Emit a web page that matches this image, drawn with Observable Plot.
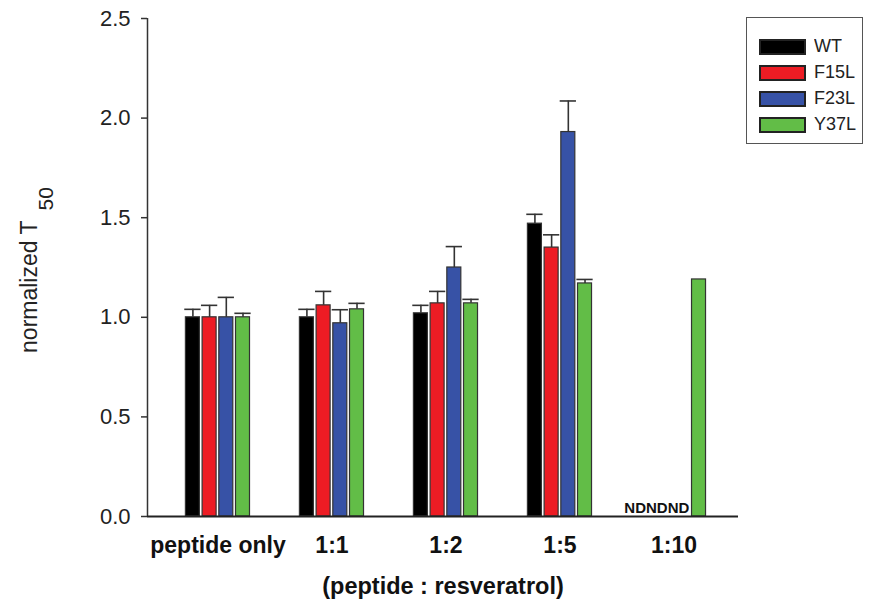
<!DOCTYPE html>
<html><head><meta charset="utf-8">
<script src="https://cdn.jsdelivr.net/npm/d3@7"></script>
<script src="https://cdn.jsdelivr.net/npm/@observablehq/plot@0.6"></script>
<style>
body{margin:0;background:#fff;font-family:"Liberation Sans",Arial,sans-serif;}
#wrap{position:relative;width:870px;height:607px;}
#legend{position:absolute;left:746px;top:17px;width:117px;height:127px;border:1.5px solid #555;box-sizing:border-box;padding:18px 0 0 13px;background:#fff;}
#legend .lg-swatch{margin-bottom:4px;}
#legend svg rect{stroke:#222;stroke-width:2px;}
</style></head><body><div id="wrap"><div id="legend"></div></div>
<script>
// ---- data ----
const groups = ["peptide only", "1:1", "1:2", "1:5", "1:10"];
const variants = ["WT", "F15L", "F23L", "Y37L"];
const colors = ["#000000", "#ed1c24", "#3752a6", "#62bd47"];
const WT      = [1.00, 1.00, 1.02, 1.47, null];
const F15L    = [1.00, 1.06, 1.07, 1.35, null];
const F23L    = [1.00, 0.97, 1.25, 1.93, null];
const Y37L    = [1.00, 1.04, 1.07, 1.17, 1.19];
const WT_err   = [0.04, 0.04, 0.04, 0.047, null];
const F15L_err = [0.06, 0.07, 0.06, 0.064, null];
const F23L_err = [0.10, 0.068, 0.105, 0.156, null];
const Y37L_err = [0.02, 0.03, 0.02, 0.02, null];
const yTicks = [0, 0.5, 1.0, 1.5, 2.0, 2.5];
const yTitle = "normalized T";
const yTitleSub = "50";
const xTitle = "(peptide : resveratrol)";
const ndText = "ND";

// ---- layout ----
const series = {WT, F15L, F23L, Y37L};
const errors = {WT: WT_err, F15L: F15L_err, F23L: F23L_err, Y37L: Y37L_err};
const xDomain = [-0.618, 4.566];
const barStep = 0.1465, barWidth = 0.1228, capExtra = 0.01;

const rows = [];
groups.forEach((g, i) => variants.forEach((v, j) => {
  const val = series[v][i], err = errors[v][i];
  const left = i + (j - 2) * barStep + (barStep - barWidth) / 2;
  rows.push({g, i, v, j, val, err, x1: left, x2: left + barWidth, xc: left + barWidth / 2});
}));
const bars = rows.filter(d => d.val != null);
const errs = bars.filter(d => d.err != null);
const nd = rows.filter(d => d.val == null);
const ndGroups = d3.groups(nd, d => d.i).map(([i, arr]) => ({i, x: d3.max(arr, d => d.x2), text: arr.map(() => ndText).join("")}));

const font = '"Liberation Sans", Arial, sans-serif';
const chart = Plot.plot({
  width: 870, height: 607,
  marginLeft: 147, marginRight: 132, marginTop: 18, marginBottom: 91,
  style: {fontFamily: font, background: "#fff", color: "#222"},
  x: {domain: xDomain, axis: null},
  y: {domain: [0, 2.5], axis: null},
  color: {domain: variants, range: colors},
  marks: [
    Plot.rectY(bars, {x1: "x1", x2: "x2", y: "val", fill: "v", stroke: "#333", strokeWidth: 1.2}),
    Plot.ruleX(errs, {x: "xc", y1: "val", y2: d => d.val + d.err, stroke: "#333", strokeWidth: 1.6}),
    Plot.ruleY(errs, {y: d => d.val + d.err, x1: d => d.x1 - capExtra, x2: d => d.x2 + capExtra, stroke: "#333", strokeWidth: 1.6}),
    Plot.text(ndGroups, {x: "x", y: () => 0, text: "text", textAnchor: "end", lineAnchor: "bottom", dy: -4, fontWeight: "bold", fontSize: 15, fill: "#111"}),
    Plot.ruleX([xDomain[0]], {y1: 0, y2: 2.5, stroke: "#333", strokeWidth: 1.5}),
    Plot.ruleY([0], {stroke: "#222", strokeWidth: 1.8}),
    Plot.axisY({ticks: yTicks, tickFormat: d3.format(".1f"), tickSize: 6, tickPadding: 11, fontSize: 22, label: null, stroke: "#333", strokeWidth: 1.5, fill: "#222"}),
    Plot.axisX({ticks: d3.range(groups.length), tickFormat: i => groups[i], tickSize: 0, tickPadding: 20, fontSize: 23, fontWeight: "bold", label: null, fill: "#111"}),
    Plot.text([xTitle], {text: d => d, frameAnchor: "bottom", dy: 77, lineAnchor: "bottom", fontSize: 23.5, fontWeight: "bold", fill: "#111"})
  ]
});

const svg = d3.select(chart);
const t = svg.append("text")
  .attr("transform", "translate(37,270) rotate(-90)")
  .attr("text-anchor", "middle")
  .attr("font-size", 23)
  .attr("font-family", font)
  .attr("fill", "#222");
t.append("tspan").text(yTitle);
t.append("tspan").attr("font-size", 21).attr("dy", 16).attr("dx", 10).text(yTitleSub);

document.getElementById("wrap").prepend(chart);

const legend = Plot.legend({
  color: {domain: variants, range: colors},
  legend: "swatches", columns: 1, swatchWidth: 45, swatchHeight: 14,
  className: "lg",
  style: {fontSize: "18px", fontFamily: font, color: "#222"}
});
document.getElementById("legend").appendChild(legend);
</script>
</body></html>
